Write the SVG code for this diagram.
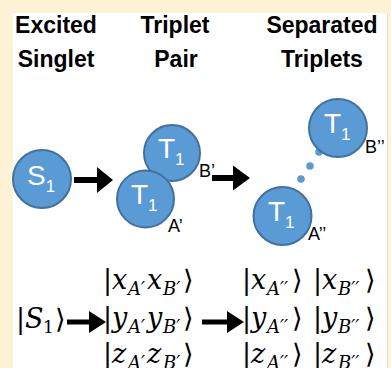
<svg xmlns="http://www.w3.org/2000/svg" width="391" height="368" viewBox="0 0 391 368">
<style>
.title{font-family:"Liberation Sans",Arial,sans-serif;font-weight:bold;font-size:23px;fill:#000;text-anchor:middle}
.node circle{fill:#5b9bd5;stroke:#41719c;stroke-width:2}
.sym{font-family:"Liberation Sans",Arial,sans-serif;font-size:28px;fill:#fff}
.sub{font-size:17px}
.lbl{font-family:"Liberation Sans",Arial,sans-serif;font-size:18px;fill:#000}
.math{font-family:"DejaVu Serif","Liberation Serif",serif;font-size:27px;fill:#000}
.it{font-style:italic}
.ms{font-size:18px;font-style:italic}
.one{font-size:17px}
.dot{fill:#5b9bd5}
.arr{fill:#000}
</style>
<rect x="0" y="0" width="391" height="368" fill="#fdf1d6"/>
<rect x="13" y="13" width="374" height="355" fill="#fff"/>
<line x1="387.5" y1="13" x2="387.5" y2="368" stroke="#e0e0e0" stroke-width="1"/>

<text class="title" x="56" y="33">Excited</text>
<text class="title" x="56" y="67">Singlet</text>
<text class="title" x="175" y="33">Triplet</text>
<text class="title" x="176" y="67">Pair</text>
<text class="title" x="322" y="33">Separated</text>
<text class="title" x="322" y="67">Triplets</text>

<g id="connectors">
  <path class="arr" d="M74,177 H97 V167 L113,180 L97,193 V183 H74 Z"/>
  <path class="arr" d="M212,175 H233 V165.5 L250,178 L233,190.5 V181 H212 Z"/>
  <path class="arr" d="M67,319.5 H89 V311 L106,322 L89,333 V324.5 H67 Z"/>
  <path class="arr" d="M202,319.5 H227 V311 L244,322 L227,333 V324.5 H202 Z"/>
  <circle class="dot" cx="319" cy="152" r="3.8"/>
  <circle class="dot" cx="310" cy="166" r="3.8"/>
  <circle class="dot" cx="301" cy="179" r="3.8"/>
</g>

<g id="S1" class="node">
  <circle cx="42" cy="179" r="29"/>
  <text class="sym" x="27" y="185">S<tspan class="sub" dy="7">1</tspan></text>
</g>
<g id="T1-Bp" class="node">
  <circle cx="172" cy="153" r="28"/>
  <text class="sym" x="158" y="158">T<tspan class="sub" dy="7">1</tspan></text>
</g>
<g id="T1-Ap" class="node">
  <circle cx="145.5" cy="199" r="28.5"/>
  <text class="sym" x="131" y="204">T<tspan class="sub" dy="7">1</tspan></text>
</g>
<text class="lbl" x="168" y="232">A’</text>
<text class="lbl" x="199" y="177">B’</text>

<g id="T1-Bpp" class="node">
  <circle cx="338" cy="128" r="29"/>
  <text class="sym" x="324" y="133">T<tspan class="sub" dy="7">1</tspan></text>
</g>
<g id="T1-App" class="node">
  <circle cx="282.5" cy="216" r="29"/>
  <text class="sym" x="268" y="221">T<tspan class="sub" dy="7">1</tspan></text>
</g>
<text class="lbl" x="308" y="240">A’’</text>
<text class="lbl" x="365" y="153">B’’</text>

<g id="kets">
  <text class="math" y="328"><tspan x="16">|</tspan><tspan class="it" x="25">S</tspan><tspan class="one" x="43" dy="5">1</tspan><tspan x="55" dy="-5">⟩</tspan></text>

  <text class="math" y="289"><tspan x="103">|</tspan><tspan class="it" x="112">x</tspan><tspan class="ms" x="128" dy="6">A′</tspan><tspan class="it" x="147" dy="-6">x</tspan><tspan class="ms" x="163" dy="6">B′</tspan><tspan x="183" dy="-6">⟩</tspan></text>
  <text class="math" y="327"><tspan x="103">|</tspan><tspan class="it" x="112">y</tspan><tspan class="ms" x="128" dy="6">A′</tspan><tspan class="it" x="147" dy="-6">y</tspan><tspan class="ms" x="163" dy="6">B′</tspan><tspan x="183" dy="-6">⟩</tspan></text>
  <text class="math" y="363"><tspan x="103">|</tspan><tspan class="it" x="112">z</tspan><tspan class="ms" x="128" dy="6">A′</tspan><tspan class="it" x="147" dy="-6">z</tspan><tspan class="ms" x="163" dy="6">B′</tspan><tspan x="183" dy="-6">⟩</tspan></text>

  <text class="math" y="289"><tspan x="242">|</tspan><tspan class="it" x="251">x</tspan><tspan class="ms" x="267" dy="6">A′′</tspan><tspan x="292" dy="-6">⟩</tspan></text>
  <text class="math" y="327"><tspan x="242">|</tspan><tspan class="it" x="251">y</tspan><tspan class="ms" x="267" dy="6">A′′</tspan><tspan x="292" dy="-6">⟩</tspan></text>
  <text class="math" y="363"><tspan x="242">|</tspan><tspan class="it" x="251">z</tspan><tspan class="ms" x="267" dy="6">A′′</tspan><tspan x="292" dy="-6">⟩</tspan></text>

  <text class="math" y="289"><tspan x="313">|</tspan><tspan class="it" x="322">x</tspan><tspan class="ms" x="338" dy="6">B′′</tspan><tspan x="365" dy="-6">⟩</tspan></text>
  <text class="math" y="327"><tspan x="313">|</tspan><tspan class="it" x="322">y</tspan><tspan class="ms" x="338" dy="6">B′′</tspan><tspan x="365" dy="-6">⟩</tspan></text>
  <text class="math" y="363"><tspan x="313">|</tspan><tspan class="it" x="322">z</tspan><tspan class="ms" x="338" dy="6">B′′</tspan><tspan x="365" dy="-6">⟩</tspan></text>
</g>
</svg>
